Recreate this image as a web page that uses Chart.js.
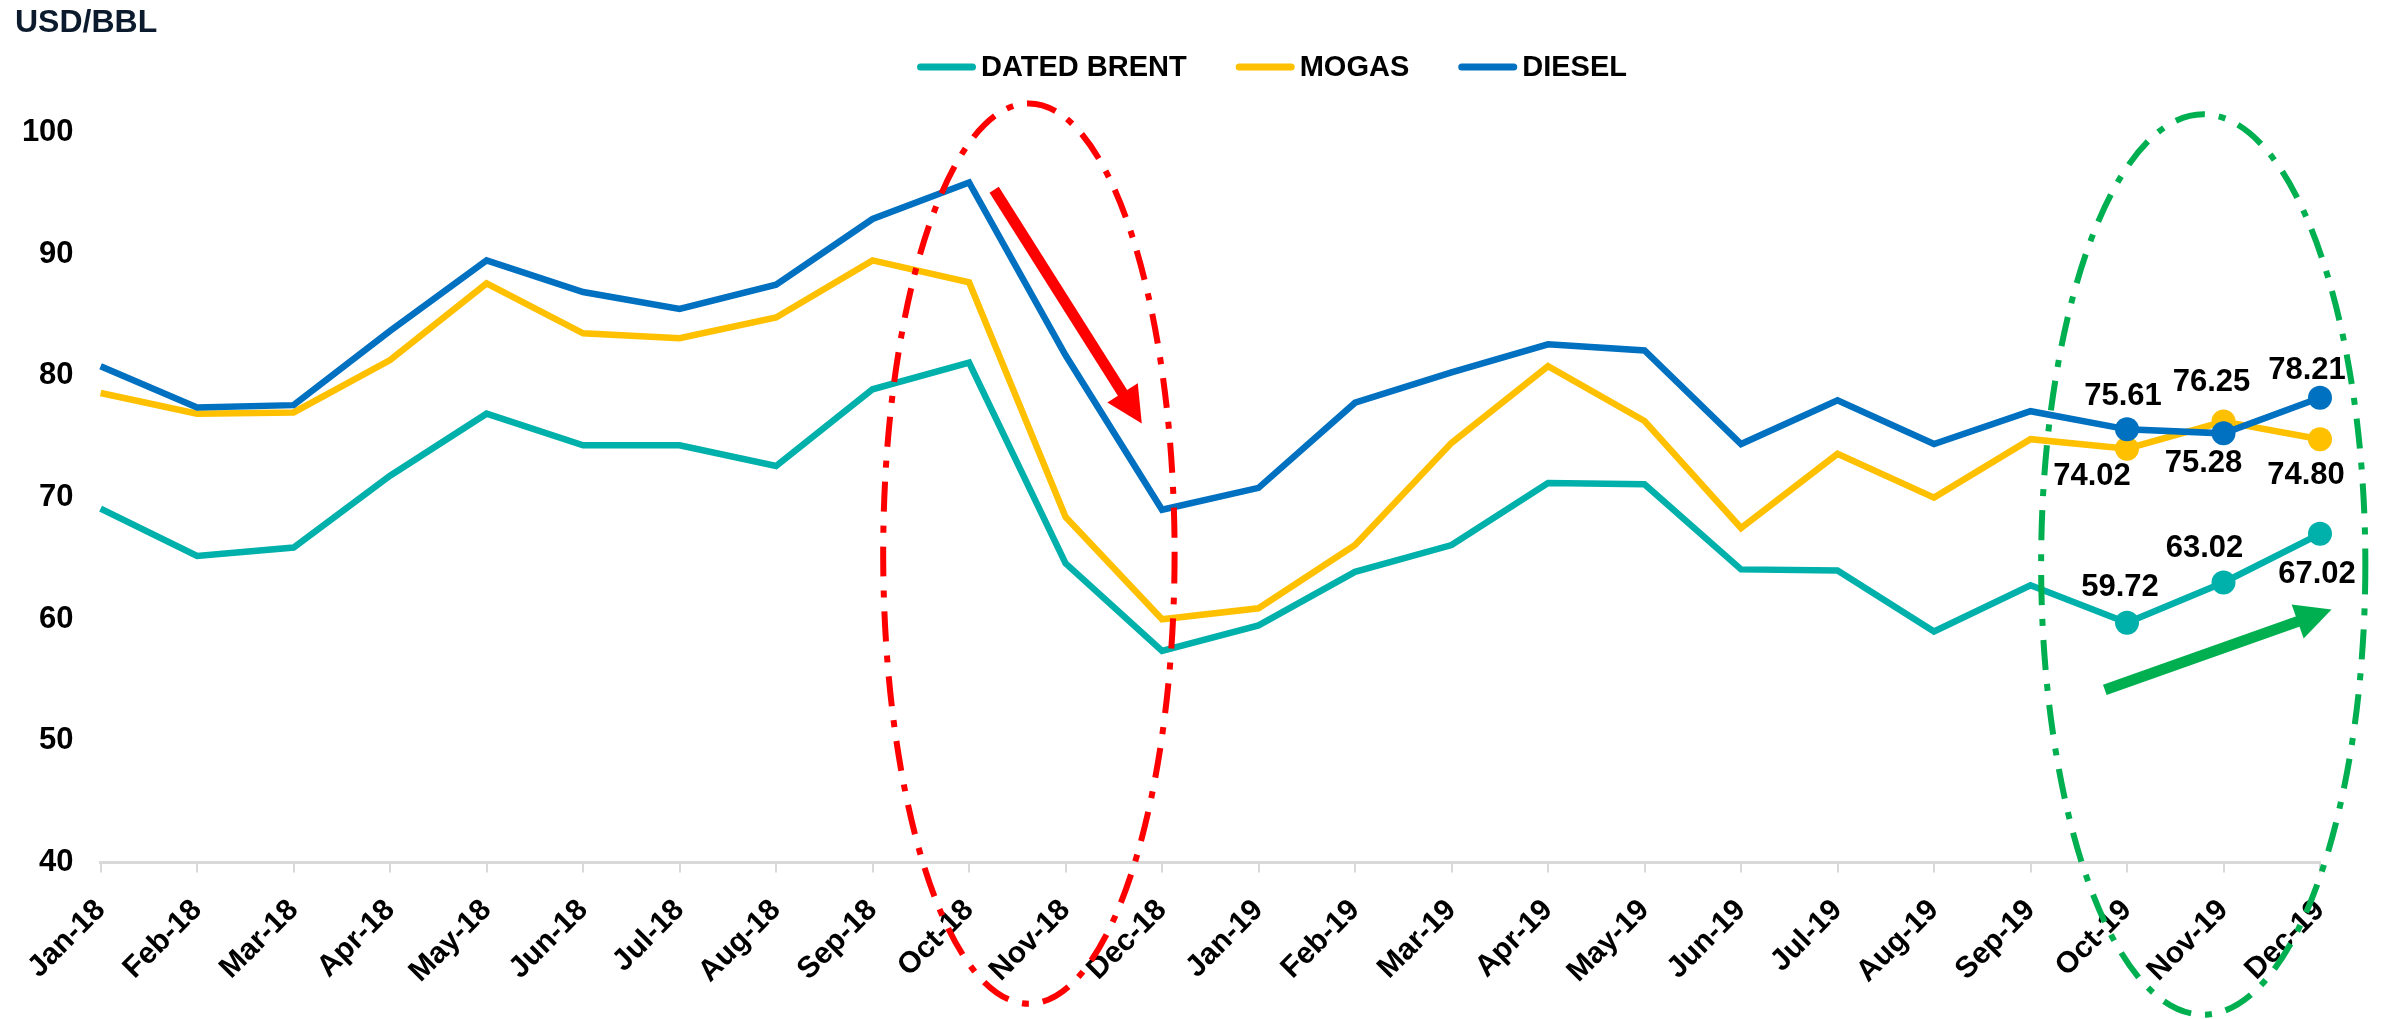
<!DOCTYPE html>
<html><head><meta charset="utf-8">
<script src="https://cdn.jsdelivr.net/npm/chart.js@4.4.1/dist/chart.umd.min.js"></script>
<style>html,body{margin:0;padding:0;background:#fff;overflow:hidden}#wrap{width:2390px;height:1019px;position:relative}canvas{display:block}</style>
</head><body><div id="wrap"><canvas id="c" width="2390" height="1019"></canvas></div>
<script>
// ---- data ----
const months = ['Jan-18','Feb-18','Mar-18','Apr-18','May-18','Jun-18','Jul-18','Aug-18','Sep-18','Oct-18','Nov-18','Dec-18',
                'Jan-19','Feb-19','Mar-19','Apr-19','May-19','Jun-19','Jul-19','Aug-19','Sep-19','Oct-19','Nov-19','Dec-19'];
const datedBrent = [69.1,65.2,65.9,71.8,76.9,74.3,74.3,72.6,78.9,81.1,64.6,57.4,59.5,63.9,66.1,71.2,71.1,64.1,64.0,59.0,62.8,59.72,63.02,67.02];
const mogas      = [78.6,76.9,77.0,81.3,87.6,83.5,83.1,84.8,89.5,87.7,68.4,60.0,60.9,66.1,74.5,80.8,76.3,67.5,73.6,70.0,74.8,74.02,76.25,74.80];
const diesel     = [80.8,77.4,77.6,83.7,89.5,86.9,85.5,87.5,92.9,95.9,81.7,69.0,70.8,77.8,80.3,82.6,82.1,74.4,78.0,74.4,77.1,75.61,75.28,78.21];
const yTicks = [40,50,60,70,80,90,100];
const seriesNames = ['DATED BRENT','MOGAS','DIESEL'];
const unitLabel = 'USD/BBL';

// ---- styles ----
const FONT = "'Liberation Sans', Arial, Helvetica, sans-serif";
const colors = {'DATED BRENT':'#00B0AA','MOGAS':'#FFC000','DIESEL':'#0070C0'};
const nLabelled = 3; // last three months are marked and labelled
const labelOffsets = {
  'DATED BRENT': [[-7,-35],[-19,-34],[-3,41]],
  'MOGAS':       [[-35,28],[-12,-39],[-14,36]],
  'DIESEL':      [[-4,-33],[-20,30],[-13,-27]]
};
// annotations in data units (category index, value)
const ellipses = [
  {cx:9.62, cy:65.4, rx:1.51, ry:37.0, color:'#FF0000'},
  {cx:21.79, cy:64.5, rx:1.68, ry:37.0, color:'#00B050'}
];
const arrows = [
  {x0:9.26, y0:95.3, x1:10.79, y1:76.1, color:'#FF0000'},
  {x0:20.77, y0:54.2, x1:23.12, y1:60.8, color:'#00B050'}
];

Chart.defaults.font.family = FONT;

const seriesData = [datedBrent, mogas, diesel];
const datasets = seriesNames.map((name, i) => ({
  label: name,
  data: seriesData[i],
  borderColor: colors[name],
  backgroundColor: colors[name],
  borderWidth: 6.5,
  borderJoinStyle: 'miter',
  tension: 0,
  order: 3 - i,
  pointRadius: ctx => ctx.dataIndex >= months.length - nLabelled ? 12 : 0,
  pointHoverRadius: 0,
  pointBorderWidth: 0,
  pointBackgroundColor: colors[name]
}));

const annotationPlugin = {
  id: 'annot',
  afterDatasetsDraw(chart) {
    const ctx = chart.ctx, xs = chart.scales.x, ys = chart.scales.y;
    const pxPerCat = xs.getPixelForValue(1) - xs.getPixelForValue(0);
    const pxPerUnit = ys.getPixelForValue(0) - ys.getPixelForValue(1);
    ctx.save();
    ellipses.forEach(e => {
      ctx.beginPath();
      ctx.setLineDash([30, 14, 7, 14]);
      ctx.lineWidth = 6;
      ctx.strokeStyle = e.color;
      ctx.ellipse(xs.getPixelForValue(e.cx), ys.getPixelForValue(e.cy), e.rx * pxPerCat, e.ry * pxPerUnit, 0, 0, Math.PI * 2);
      ctx.stroke();
    });
    ctx.setLineDash([]);
    arrows.forEach(a => {
      const x0 = xs.getPixelForValue(a.x0), y0 = ys.getPixelForValue(a.y0);
      const x1 = xs.getPixelForValue(a.x1), y1 = ys.getPixelForValue(a.y1);
      const ang = Math.atan2(y1 - y0, x1 - x0);
      const headLen = 36, headHalf = 18;
      const bx = x1 - headLen * Math.cos(ang), by = y1 - headLen * Math.sin(ang);
      ctx.strokeStyle = a.color; ctx.fillStyle = a.color;
      ctx.lineWidth = 11; ctx.lineCap = 'butt';
      ctx.beginPath(); ctx.moveTo(x0, y0); ctx.lineTo(bx + 2 * Math.cos(ang), by + 2 * Math.sin(ang)); ctx.stroke();
      ctx.beginPath();
      ctx.moveTo(x1, y1);
      ctx.lineTo(bx + headHalf * Math.sin(ang), by - headHalf * Math.cos(ang));
      ctx.lineTo(bx - headHalf * Math.sin(ang), by + headHalf * Math.cos(ang));
      ctx.closePath(); ctx.fill();
    });
    ctx.restore();
  },
  afterDraw(chart) {
    const ctx = chart.ctx;
    ctx.save();
    // data labels
    ctx.font = 'bold 31px ' + FONT;
    ctx.fillStyle = '#000';
    ctx.textAlign = 'center';
    ctx.textBaseline = 'middle';
    chart.data.datasets.forEach((ds, di) => {
      const meta = chart.getDatasetMeta(di);
      const offs = labelOffsets[ds.label];
      for (let k = 0; k < nLabelled; k++) {
        const idx = ds.data.length - nLabelled + k;
        const pt = meta.data[idx];
        ctx.fillText(ds.data[idx].toFixed(2), pt.x + offs[k][0], pt.y + offs[k][1]);
      }
    });
    // unit label
    ctx.font = 'bold 32px ' + FONT;
    ctx.fillStyle = '#0B1A2C';
    ctx.textAlign = 'left';
    ctx.textBaseline = 'alphabetic';
    ctx.fillText(unitLabel, 15, 32);
    // legend
    ctx.font = 'bold 29px ' + FONT;
    const lineW = 59, gapTxt = 5, gapItem = 49, ly = 67;
    const widths = seriesNames.map(n => lineW + gapTxt + ctx.measureText(n).width);
    const total = widths.reduce((a, b) => a + b, 0) + gapItem * (seriesNames.length - 1);
    let x = 1272 - total / 2;
    ctx.textBaseline = 'middle';
    seriesNames.forEach((n, i) => {
      ctx.strokeStyle = colors[n]; ctx.lineWidth = 7; ctx.lineCap = 'round';
      ctx.beginPath(); ctx.moveTo(x + 3.5, ly); ctx.lineTo(x + lineW - 3.5, ly); ctx.stroke();
      ctx.fillStyle = '#000';
      ctx.fillText(n, x + lineW + gapTxt, ly + 1);
      x += widths[i] + gapItem;
    });
    ctx.restore();
  }
};

new Chart(document.getElementById('c'), {
  type: 'line',
  data: { labels: months, datasets },
  options: {
    responsive: false,
    animation: false,
    devicePixelRatio: 1,
    layout: { padding: { top: 132.6, right: 70, left: 0, bottom: 0 } },
    plugins: { legend: { display: false }, title: { display: false }, tooltip: { enabled: false } },
    scales: {
      x: {
        offset: false,
        grid: { display: true, drawOnChartArea: false, drawTicks: true, tickLength: 10, color: '#D9D9D9', lineWidth: 2 },
        border: { display: true, color: '#D9D9D9', width: 3 },
        ticks: { autoSkip: false, maxRotation: 45, minRotation: 45, padding: 20, color: '#000', font: { size: 30, weight: 'bold' } },
        afterFit(scale) { scale.height = 1019 - 862.6; }
      },
      y: {
        min: 40, max: 100,
        afterBuildTicks(scale) { scale.ticks = yTicks.map(v => ({ value: v })); },
        grid: { display: false, drawTicks: false },
        border: { display: false },
        ticks: { padding: 27, color: '#000', font: { size: 31, weight: 'bold' } },
        afterFit(scale) { scale.width = 100.6; }
      }
    }
  },
  plugins: [annotationPlugin]
});
</script>
</body></html>
